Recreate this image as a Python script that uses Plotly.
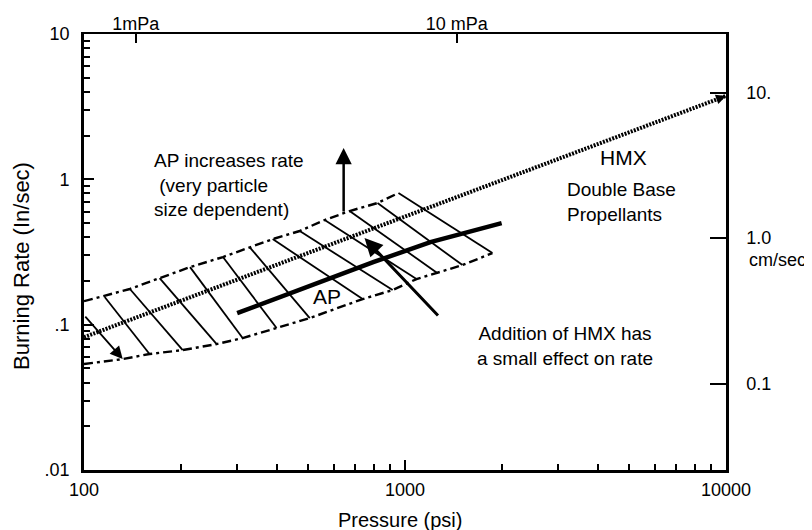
import numpy as np
import plotly.graph_objects as go

PSI_PER_MPA = 145.038
CM_PER_IN = 2.54

# HMX / double base line (pressure psi, burning rate in/sec)
hmx_p = [100, 10000]
hmx_r = [0.082, 3.75]

# AP line
ap_p = [300, 500, 800, 1200, 2000]
ap_r = [0.120, 0.183, 0.270, 0.370, 0.500]

# hatched band boundaries
upper_p = [100, 139, 172, 214, 271, 328, 387, 470, 562, 672, 821, 954]
upper_r = [0.145, 0.176, 0.209, 0.249, 0.292, 0.342, 0.388, 0.441, 0.525, 0.605, 0.687, 0.805]
lower_p = [100, 132, 160, 203, 259, 312, 398, 505, 738, 915, 1086, 1257, 1510, 1872]
lower_r = [0.0536, 0.058, 0.0628, 0.0669, 0.0735, 0.0809, 0.0948, 0.111, 0.150, 0.173, 0.206, 0.228, 0.257, 0.311]

# hatch strokes (top end -> bottom end)
hatch_top_p = [116, 139, 172, 214, 271, 328, 387, 470, 562, 672, 821, 954]
hatch_top_r = [0.155, 0.176, 0.209, 0.249, 0.292, 0.342, 0.388, 0.441, 0.525, 0.605, 0.687, 0.805]
hatch_bot_p = [160, 203, 259, 312, 398, 505, 738, 915, 1086, 1257, 1510, 1872]
hatch_bot_r = [0.0628, 0.0669, 0.0735, 0.0809, 0.0948, 0.111, 0.150, 0.173, 0.206, 0.228, 0.257, 0.311]

# first hatch stroke ends with an arrowhead
hatch_arrow_p = [100, 132]
hatch_arrow_r = [0.1164, 0.058]

# annotation arrows (tail -> tip)
ap_arrow_p = [644, 644]
ap_arrow_r = [0.586, 1.64]
hmx_arrow_p = [1280, 748]
hmx_arrow_r = [0.113, 0.394]

x_tick_vals = [100, 1000, 10000]
x_tick_text = ["100", "1000", "10000"]
y_tick_vals = [0.01, 0.1, 1, 10]
y_tick_text = [".01", ".1", "1", "10"]
top_tick_vals = [1, 10]
top_tick_text = ["1mPa", "10 mPa"]
right_tick_vals = [0.1, 1, 10]
right_tick_text = ["0.1", "1.0", "10."]

FONT = "Liberation Sans, Arial, Helvetica, sans-serif"

hx, hy = [], []
for a, b, c, d in zip(hatch_top_p, hatch_top_r, hatch_bot_p, hatch_bot_r):
    hx += [a, c, None]
    hy += [b, d, None]

fig = go.Figure()
fig.add_trace(go.Scatter(x=hx, y=hy, mode="lines",
                         line=dict(color="black", width=1.8), hoverinfo="skip"))
fig.add_trace(go.Scatter(x=upper_p, y=upper_r, mode="lines",
                         line=dict(color="black", width=2.4, dash="9px,4px,3px,4px"), hoverinfo="skip"))
fig.add_trace(go.Scatter(x=lower_p, y=lower_r, mode="lines",
                         line=dict(color="black", width=2.4, dash="9px,4px,3px,4px"), hoverinfo="skip"))
fig.add_trace(go.Scatter(x=hmx_p, y=hmx_r, mode="lines",
                         line=dict(color="black", width=4, dash="2px,1.3px"), hoverinfo="skip"))
fig.add_trace(go.Scatter(x=ap_p, y=ap_r, mode="lines",
                         line=dict(color="black", width=4.5), hoverinfo="skip"))
# carriers for secondary unit axes (invisible)
fig.add_trace(go.Scatter(x=np.array(hmx_p) / PSI_PER_MPA, y=hmx_r, xaxis="x2", yaxis="y",
                         mode="lines", opacity=0, hoverinfo="skip"))
fig.add_trace(go.Scatter(x=hmx_p, y=np.array(hmx_r) * CM_PER_IN, xaxis="x", yaxis="y2",
                         mode="lines", opacity=0, hoverinfo="skip"))

lg = np.log10


def arrow(px, pr, width, size, head=2):
    return dict(x=lg(px[1]), y=lg(pr[1]), ax=lg(px[0]), ay=lg(pr[0]),
                xref="x", yref="y", axref="x", ayref="y", text="", showarrow=True,
                arrowhead=head, arrowsize=size, arrowwidth=width, arrowcolor="black", standoff=0)


tfont = dict(family=FONT, size=19, color="black")
annotations = [
    arrow(ap_arrow_p, ap_arrow_r, 2.5, 1.3),
    arrow(hmx_arrow_p, hmx_arrow_r, 3, 1.2),
    arrow(hatch_arrow_p, hatch_arrow_r, 1.8, 1.4),
    arrow([hmx_p[1] * 0.93, hmx_p[1]], [hmx_r[1] * 0.943, hmx_r[1]], 2, 1.0),
    dict(x=lg(163), y=lg(0.914), xref="x", yref="y", xanchor="left", yanchor="middle", align="left",
         text="AP increases rate<br>&nbsp;(very particle<br>size dependent)", showarrow=False, font=tfont),
    dict(x=lg(4808), y=lg(1.42), xref="x", yref="y", text="HMX", showarrow=False,
         font=dict(family=FONT, size=21, color="black")),
    dict(x=lg(3150), y=lg(0.703), xref="x", yref="y", xanchor="left", yanchor="middle", align="left",
         text="Double Base<br>Propellants", showarrow=False, font=tfont),
    dict(x=lg(571), y=lg(0.1575), xref="x", yref="y", text="AP", showarrow=False,
         font=dict(family=FONT, size=21, color="black")),
    dict(x=lg(3148), y=lg(0.0713), xref="x", yref="y", text="Addition of HMX has<br>a small effect on rate",
         showarrow=False, font=tfont),
    dict(x=1.0327, y=0.4817, xref="paper", yref="paper", xanchor="left", yanchor="middle",
         text="cm/sec", showarrow=False, font=dict(family=FONT, size=18, color="black")),
    dict(x=0.492, y=-0.1147, xref="paper", yref="paper", xanchor="center", yanchor="middle",
         text="Pressure (psi)", showarrow=False, font=dict(family=FONT, size=20, color="black")),
    dict(x=-0.0966, y=0.468, xref="paper", yref="paper", xanchor="center", yanchor="middle",
         text="Burning Rate (In/sec)", textangle=-90,
         showarrow=False, font=dict(family=FONT, size=22, color="black")),
]

minor_x = [m * 10 ** e for e in range(2, 4) for m in range(2, 10)]
minor_y = [m * 10 ** e for e in range(-2, 1) for m in range(2, 10)]

fig.update_layout(
    width=812, height=530,
    margin=dict(l=76, r=94, t=26, b=68),
    paper_bgcolor="white", plot_bgcolor="white",
    showlegend=False,
    font=dict(family=FONT, size=18, color="black"),
    annotations=annotations,
    xaxis=dict(type="log", range=[2, 4], tickvals=x_tick_vals, ticktext=x_tick_text,
               ticks="inside", ticklen=10, tickwidth=2, tickcolor="black",
               minor=dict(tickvals=minor_x, ticks="inside", ticklen=6, tickwidth=1.5, tickcolor="black"),
               showline=True, linewidth=2.5, linecolor="black", showgrid=False, zeroline=False,
               ticklabelstandoff=2, tickfont=dict(size=18), automargin=False),
    xaxis2=dict(type="log", overlaying="x", side="top", anchor="y",
                range=[lg(100 / PSI_PER_MPA), lg(10000 / PSI_PER_MPA)],
                tickvals=top_tick_vals, ticktext=top_tick_text,
                ticks="inside", ticklen=9, tickwidth=2, tickcolor="black",
                showline=True, linewidth=2, linecolor="black", showgrid=False, zeroline=False,
                ticklabelstandoff=-5, tickfont=dict(size=18), automargin=False),
    yaxis=dict(type="log", range=[-2, 1], tickvals=y_tick_vals, ticktext=y_tick_text,
               ticks="inside", ticklen=10, tickwidth=2, tickcolor="black",
               minor=dict(tickvals=minor_y, ticks="inside", ticklen=6, tickwidth=1.5, tickcolor="black"),
               showline=True, linewidth=2.8, linecolor="black", showgrid=False, zeroline=False,
               ticklabelstandoff=8, tickfont=dict(size=18), automargin=False),
    yaxis2=dict(type="log", overlaying="y", side="right", anchor="x",
                range=[lg(0.01 * CM_PER_IN), lg(10 * CM_PER_IN)],
                tickvals=right_tick_vals, ticktext=right_tick_text,
                ticks="inside", ticklen=16, tickwidth=2, tickcolor="black",
                showline=True, linewidth=2.5, linecolor="black", showgrid=False, zeroline=False,
                ticklabelstandoff=14, tickfont=dict(size=18), automargin=False),
)

fig.write_html("out.html")
